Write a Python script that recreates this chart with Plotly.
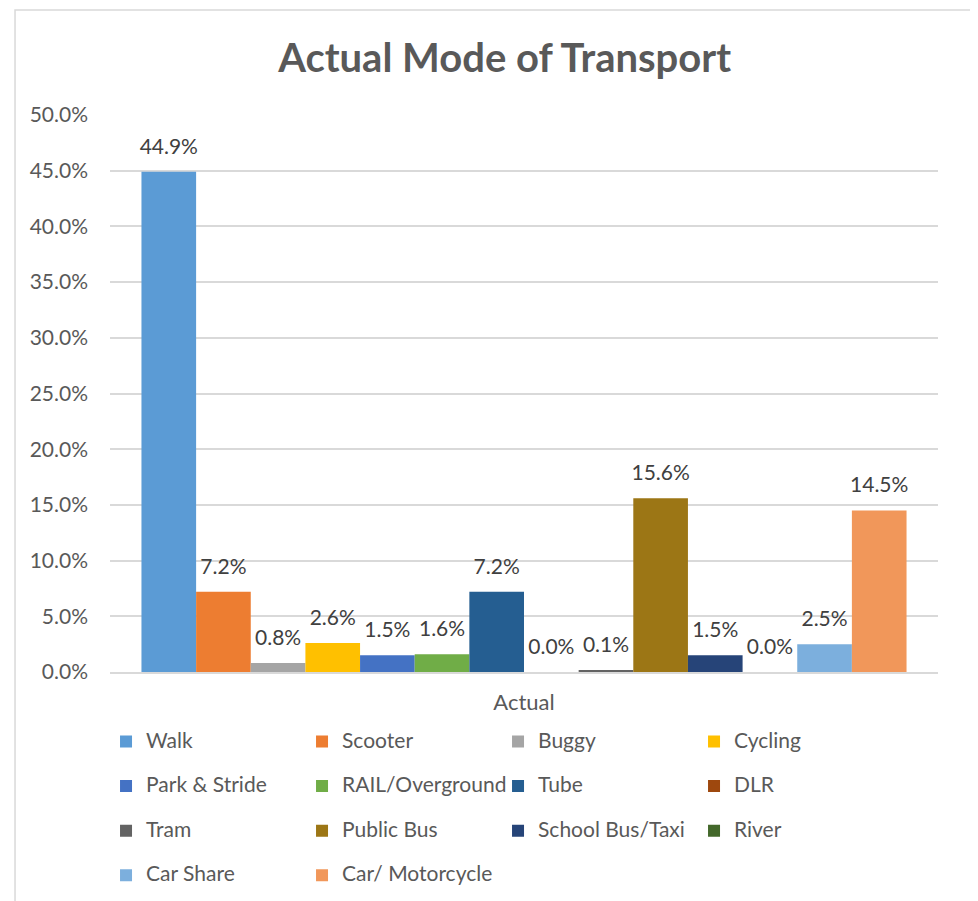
import plotly.graph_objects as go

category = ["Actual"]
modes = ["Walk", "Scooter", "Buggy", "Cycling", "Park & Stride", "RAIL/Overground",
         "Tube", "DLR", "Tram", "Public Bus", "School Bus/Taxi", "River",
         "Car Share", "Car/ Motorcycle"]
shares = [0.449, 0.072, 0.008, 0.026, 0.015, 0.016, 0.072, 0.000, 0.001,
          0.156, 0.015, 0.000, 0.025, 0.145]
colors = ["#5B9BD5", "#ED7D31", "#A5A5A5", "#FFC000", "#4472C4", "#70AD47",
          "#255E91", "#9E480E", "#636363", "#9C7615", "#264478", "#43682B",
          "#7CAFDD", "#F1975A"]
y_ticks = [i * 0.05 for i in range(11)]

FONT = "Lato"
GREY = "#595959"

fig = go.Figure()
for i, (name, val, col) in enumerate(zip(modes, shares, colors)):
    # last legend row is single-line so the legend fits in the page
    suffix = "<br> " if i < 12 else ""
    fig.add_trace(go.Bar(
        x=category, y=[val], name="<span style='font-size:21px'>" + name + "</span>" + suffix,
        marker=dict(color=col, line=dict(width=0)),
        texttemplate="<span style='font-size:21px'>%{y:.1%}</span><br> ",
        textposition="outside", constraintext="none", cliponaxis=False,
        textfont=dict(size=10, color="#404040", family=FONT),
    ))

fig.update_layout(
    width=970, height=901,
    margin=dict(l=102, r=40, t=107, b=237),
    paper_bgcolor="white", plot_bgcolor="white",
    barmode="group", bargap=0.076, bargroupgap=0,
    font=dict(family=FONT, color=GREY),
    title=dict(text="<b>Actual Mode of Transport</b>", x=0.512, xanchor="center",
               y=1 - 50 / 901, yanchor="middle", font=dict(size=40, color=GREY, family=FONT)),
    xaxis=dict(showline=True, linecolor="#D9D9D9", linewidth=1.5, ticks="",
               tickfont=dict(size=22, color=GREY), ticklabelstandoff=10),
    yaxis=dict(range=[0, 0.5], tickvals=y_ticks, tickformat=".1%",
               showgrid=True, gridcolor="#D9D9D9", gridwidth=1.5, zeroline=False,
               tickfont=dict(size=21, color=GREY), ticklabelstandoff=21),
    legend=dict(orientation="h", x=-0.0048, xanchor="left", y=-0.0943, yanchor="top",
                font=dict(size=16, color=GREY, family=FONT), valign="top",
                entrywidth=151, entrywidthmode="pixels", traceorder="normal",
                itemclick=False),
    shapes=[dict(type="rect", xref="paper", yref="paper", x0=-0.1147, x1=1.2,
                 y0=-0.6, y1=1.1885, line=dict(color="#D9D9D9", width=1.5),
                 fillcolor="rgba(0,0,0,0)", layer="below")],
)

fig.write_html("out.html")
